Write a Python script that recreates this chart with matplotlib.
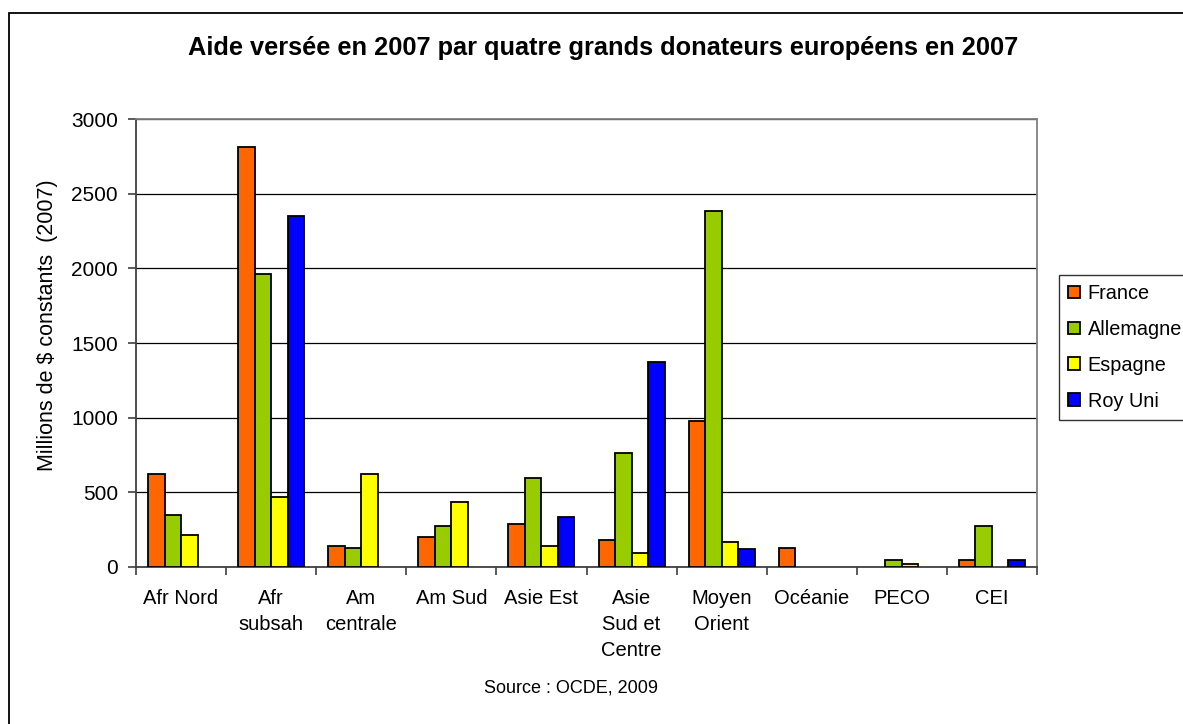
import matplotlib
matplotlib.use("Agg")
import matplotlib.pyplot as plt
import numpy as np
from matplotlib.patches import Rectangle

plt.rcParams['font.family'] = ['Liberation Sans', 'DejaVu Sans']

categories = ["Afr Nord", "Afr\nsubsah", "Am\ncentrale", "Am Sud", "Asie Est",
              "Asie\nSud et\nCentre", "Moyen\nOrient", "Océanie", "PECO", "CEI"]
france    = [620, 2810, 143, 203, 288, 179, 980, 130, 0, 47]
allemagne = [350, 1960, 130, 275, 594, 766, 2387, 0, 47, 277]
espagne   = [215, 471, 620, 435, 143, 92, 167, 0, 22, 0]
roy_uni   = [0, 2350, 0, 0, 337, 1373, 118, 0, 0, 47]
series_names = ["France", "Allemagne", "Espagne", "Roy Uni"]
series_colors = ["#FF6600", "#99CC00", "#FFFF00", "#0000FF"]
yticks = [0, 500, 1000, 1500, 2000, 2500, 3000]

W, H = 1183, 724
fig = plt.figure(figsize=(W / 100, H / 100), dpi=100)
ax = fig.add_axes([136 / W, 1 - 567 / H, (1037 - 136) / W, (567 - 119) / H])

x = np.arange(len(categories))
bw = 0.183
all_series = [france, allemagne, espagne, roy_uni]
handles = []
for i, (vals, name, col) in enumerate(zip(all_series, series_names, series_colors)):
    v = np.array(vals, dtype=float)
    keep = v > 0
    bars = ax.bar(x[keep] + (i - 1.5) * bw, v[keep], width=bw, color=col, edgecolor="black",
                  linewidth=1.3, label=name, zorder=3)
    handles.append(bars)

ax.set_xlim(-0.5, len(categories) - 0.5)
ax.set_ylim(0, 3000)
ax.set_yticks(yticks)
ax.set_yticklabels([str(t) for t in yticks], fontsize=15)
ax.yaxis.grid(True, color="black", linewidth=0.9, zorder=0)
ax.set_axisbelow(True)

ax.set_xticks(x)
ax.set_xticklabels(categories, fontsize=14.5, linespacing=1.45, va="top")
ax.set_xticks(np.arange(-0.5, len(categories), 1.0), minor=True)
ax.tick_params(axis="x", which="major", length=0, pad=16)
ax.tick_params(axis="x", which="minor", length=6, direction="out", width=1.2, color="#404040")
ax.tick_params(axis="y", which="major", length=6, direction="out", width=1.2, color="#404040", pad=7)

for s in ["left", "bottom"]:
    ax.spines[s].set_color("#404040")
    ax.spines[s].set_linewidth(1.3)
for s in ["top", "right"]:
    ax.spines[s].set_color("#808080")
    ax.spines[s].set_linewidth(1.3)

fig.text(48 / W, 1 - 325 / H, "Millions de $ constants  (2007)", rotation=90,
         ha="center", va="center", fontsize=15.5)
fig.text(603 / W, 1 - 48 / H, "Aide versée en 2007 par quatre grands donateurs européens en 2007",
         ha="center", va="center", fontsize=18.3, fontweight="bold")
fig.text(571 / W, 1 - 688 / H, "Source : OCDE, 2009", ha="center", va="center", fontsize=13)

leg = fig.legend(handles=handles, labels=series_names, loc="upper left",
                 bbox_to_anchor=(1059 / W, 1 - 275 / H), fontsize=14.3,
                 frameon=True, fancybox=False, handlelength=0.6, handleheight=0.6,
                 handletextpad=0.4, labelspacing=0.85, borderpad=0.45, borderaxespad=0)
leg.get_frame().set_edgecolor("black")
leg.get_frame().set_linewidth(1.0)

fig.patches.append(Rectangle((8.5 / W, -0.05), 1.2, 1 - 12.5 / H + 0.05, transform=fig.transFigure,
                             fill=False, edgecolor="black", linewidth=1.3))

fig.savefig("out.png", dpi=100)
